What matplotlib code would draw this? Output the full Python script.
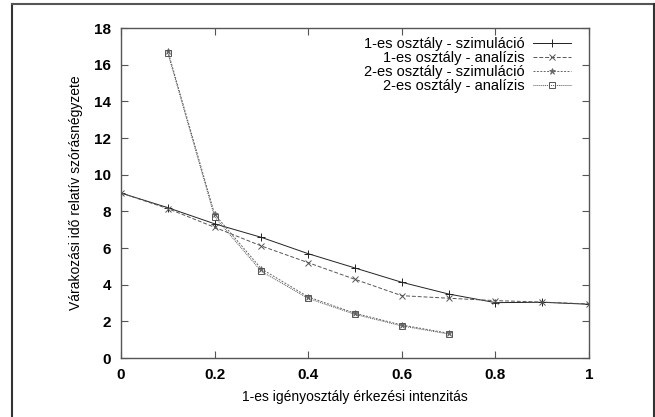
import matplotlib
matplotlib.use("Agg")
import matplotlib.pyplot as plt
from matplotlib.lines import Line2D

plt.rcParams['font.family'] = ['Liberation Sans', 'DejaVu Sans']

x1 = [0.0, 0.1, 0.2, 0.3, 0.4, 0.5, 0.6, 0.7, 0.8, 0.9, 1.0]
sim1 = [9.0, 8.2, 7.32, 6.58, 5.69, 4.91, 4.13, 3.49, 3.02, 3.04, 2.93]
ana1 = [9.0, 8.15, 7.13, 6.11, 5.2, 4.29, 3.4, 3.26, 3.13, 3.05, 2.95]

x2 = [0.1, 0.2, 0.3, 0.4, 0.5, 0.6, 0.7]
sim2 = [16.75, 7.84, 4.86, 3.33, 2.44, 1.8, 1.35]
ana2 = [16.65, 7.7, 4.72, 3.25, 2.38, 1.75, 1.31]

labels = ['1-es osztály - szimuláció', '1-es osztály - analízis',
          '2-es osztály - szimuláció', '2-es osztály - analízis']

fig = plt.figure(figsize=(6.55, 4.17), dpi=100)
ax = fig.add_axes([121 / 655, 59 / 417, 468 / 655, 330 / 417])

# outer frame like in the document
fig.add_artist(Line2D([12 / 655, 12 / 655], [0, 413 / 417], color='#333333', lw=1.5))
fig.add_artist(Line2D([12 / 655, 654 / 655], [413 / 417, 413 / 417], color='#555555', lw=1.5))
fig.add_artist(Line2D([654 / 655, 654 / 655], [0, 413 / 417], color='#333333', lw=1.5))

ax.plot(x1, sim1, color='#222222', lw=0.7, ls='-', marker='+', ms=6, mew=0.7, label=labels[0])
ax.plot(x1, ana1, color='#555555', lw=0.7, ls=(0, (4, 2)), marker='x', ms=5, mew=0.7, label=labels[1])
ax.plot(x2, sim2, color='#666666', lw=0.7, ls=(0, (2, 1.5)), marker='*', ms=5, mew=0.5, label=labels[2])
ax.plot(x2, ana2, color='#555555', lw=0.7, ls=(0, (1, 1)), marker='s', ms=4.5, mew=0.7,
        mfc='none', label=labels[3])

ax.set_xlim(0, 1)
ax.set_ylim(0, 18)
ax.set_xticks([0, 0.2, 0.4, 0.6, 0.8, 1.0])
ax.set_xticklabels(['0', '0.2', '0.4', '0.6', '0.8', '1'])
ax.set_yticks(range(0, 19, 2))
ax.tick_params(direction='in', top=True, right=True, length=5, width=0.8,
               labelsize=11, pad=7, color='#555555')
for t in ax.get_xticklabels() + ax.get_yticklabels():
    t.set_fontweight('bold')
for s in ax.spines.values():
    s.set_color('#555555')
    s.set_linewidth(1.0)

ax.set_xlabel('1-es igényosztály érkezési intenzitás', fontsize=10, labelpad=6)
ax.set_ylabel('Várakozási idő relatív szórásnégyzete', fontsize=10, labelpad=8)

leg = ax.legend(loc='upper right', frameon=False, markerfirst=False, fontsize=10.5,
                numpoints=1, handlelength=2.6, handletextpad=0.6, labelspacing=0.0,
                borderaxespad=0.2, bbox_to_anchor=(0.98, 1.0))
leg._legend_box._children[-1]._children[0].align = 'right'

fig.savefig('out.png', dpi=100)
